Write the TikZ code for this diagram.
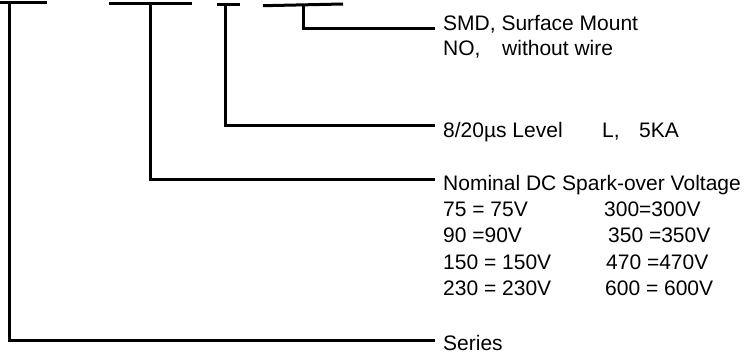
\documentclass[tikz,border=0pt]{standalone}
\usepackage{fontspec}
\setmainfont{Liberation Sans}
\begin{document}
\begin{tikzpicture}[x=1pt,y=-1pt,
  lbl/.style={anchor=base west, inner xsep=8pt, inner ysep=0pt, font=\fontsize{21pt}{25pt}\selectfont},
  wire/.style={line width=3pt}]
\useasboundingbox (0,0) rectangle (744,354);
% top bars
\coordinate (b1l) at (0,2);    \coordinate (b1r) at (47,2);   \coordinate (b1) at (9.3,2);
\coordinate (b2l) at (109,3.3);\coordinate (b2r) at (192,3.3);\coordinate (b2) at (150.7,3.3);
\coordinate (b3l) at (217,4.3);\coordinate (b3r) at (240,4.3);\coordinate (b3) at (225.7,4.3);
\coordinate (b4l) at (263,5.7);\coordinate (b4r) at (343,4);  \coordinate (b4) at (303.3,5);
% connector heights
\coordinate (y1) at (0,28.3);
\coordinate (y2) at (0,125);
\coordinate (y3) at (0,179);
\coordinate (y4) at (0,340);
% labels
\node[lbl] (smd) at (435,30) {SMD, Surface Mount};
\node[lbl] (no)  at (435,55) {\makebox[59pt][l]{NO,}without wire};
\node[lbl] (lvl) at (435,137) {\makebox[159pt][l]{8/20µs Level}\makebox[37pt][l]{L,}5KA};
\node[lbl] (nom) at (435,190) {Nominal DC Spark-over Voltage};
\node[lbl] (r1)  at (435,216) {\makebox[161pt][l]{75 = 75V}300=300V};
\node[lbl] (r2)  at (435,242) {\makebox[165pt][l]{90 =90V}350 =350V};
\node[lbl] (r3)  at (435,269) {\makebox[163pt][l]{150 = 150V}470 =470V};
\node[lbl] (r4)  at (435,295) {\makebox[162pt][l]{230 = 230V}600 = 600V};
\node[lbl] (ser) at (435,350) {Series};
% bars
\draw[wire] (b1l) -- (b1r);
\draw[wire] (b2l) -- (b2r);
\draw[wire] (b3l) -- (b3r);
\draw[wire] (b4l) -- (b4r);
% connectors
\draw[wire] (b4) |- (smd.west |- y1);
\draw[wire] (b3) |- (lvl.west |- y2);
\draw[wire] (b2) |- (nom.west |- y3);
\draw[wire] (b1) |- (ser.west |- y4);
\end{tikzpicture}
\end{document}
